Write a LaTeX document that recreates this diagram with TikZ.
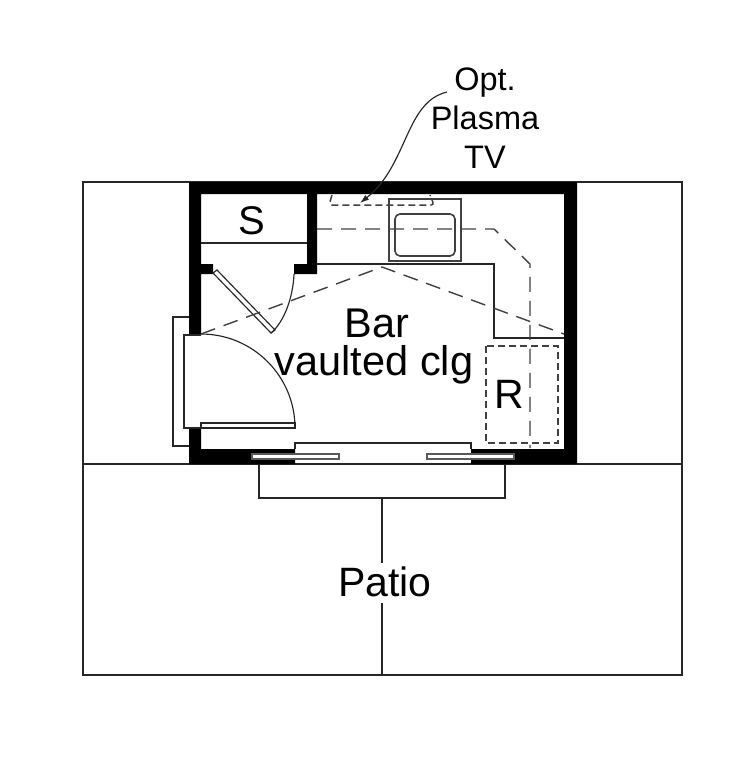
\documentclass[tikz,border=0pt]{standalone}
\usepackage{fontspec}
\setmainfont{Liberation Sans}
\usetikzlibrary{arrows.meta}
\tikzset{
  thinline/.style={draw=black!85, line width=1.15pt},
  sinkline/.style={draw=black!75, line width=1.6pt},
  dashline/.style={draw=black!75, line width=1.4pt, dash pattern=on 15pt off 9pt},
  shortdash/.style={draw=black!75, line width=1.5pt, dash pattern=on 7pt off 4pt},
  slider/.style={draw=black!65, fill=white, line width=1.5pt},
  label/.style={inner sep=0pt, anchor=base, text=black},
}
\begin{document}
\begin{tikzpicture}[x=1pt,y=-1pt]
\def\cWall{black}
\useasboundingbox (0,0) rectangle (750,780);
% plot lines
\draw[thinline] (83,182) rectangle (682,464);
\draw[thinline] (83,464) rectangle (682,675);
\draw[thinline] (382,499) -- (382,563);
\draw[thinline] (382,603) -- (382,675);
\draw[thinline] (259,464) -- (259,498) -- (505,498) -- (505,464);
% walls
\fill[\cWall] (189,182) -- (577,182) -- (577,464) -- (471,464) -- (471,449) -- (564,449) -- (564,194)
  -- (317,194) -- (317,274) -- (294,274) -- (294,264) -- (307,264) -- (307,194) -- (201,194)
  -- (201,264) -- (213,264) -- (213,274) -- (201,274) -- (201,334) -- (189,334) -- cycle;
\fill[\cWall] (189,428) -- (201,428) -- (201,449) -- (295,449) -- (295,464) -- (189,464) -- cycle;
% closet
\draw[thinline] (201,243) -- (307,243);
\draw[thinline] (213,273) -- (271,333) -- (275,330) -- (217,270) -- cycle;
\draw[thinline] (271,333) .. controls (284,322) and (293,298) .. (294,274);
% entry door
\draw[thinline] (189,317) -- (173,317) -- (173,446) -- (189,446);
\draw[thinline] (201,335) -- (184,335) -- (184,428) -- (201,428);
\draw[thinline] (201,334) arc[start angle=-90, end angle=0, radius=94];
\draw[thinline, fill=white] (201,423) rectangle (295,428);
% patio doors
\draw[thinline] (295,449) -- (295,443) -- (471,443) -- (471,449);
\draw[slider] (252,454) rectangle (339,459);
\draw[slider] (427,454) rectangle (514,459);
% counter and sink
\draw[thinline] (317,264) -- (494,264) -- (494,338) -- (564,338);
\draw[sinkline] (389,199) rectangle (461,261);
\draw[sinkline, rounded corners=5pt] (395,214) rectangle (455,256);
% overhead lines
\draw[dashline] (201,334) -- (382,267) -- (564,334);
\draw[dashline] (317,229) -- (494,229) -- (530,264) -- (530,448);
\draw[shortdash] (486,346) rectangle (558,443);
\draw[shortdash, rounded corners=3pt] (332,195) -- (329,205) -- (434,205) -- (430,195);
% labels
\node[label, font=\fontsize{40pt}{40pt}\selectfont] (closet) at (252,234) {S};
\node[label, font=\fontsize{41pt}{41pt}\selectfont] (fridge) at (509,408) {R};
\node[label, font=\fontsize{41.5pt}{41.5pt}\selectfont] (bar) at (377,337) {Bar};
\node[label, font=\fontsize{41.5pt}{41.5pt}\selectfont] (vault) at (374,375) {vaulted clg};
\node[label, font=\fontsize{41pt}{41pt}\selectfont] (patio) at (385,596) {Patio};
\node[label, font=\fontsize{32.5pt}{32.5pt}\selectfont] (opt) at (485,90) {Opt.};
\node[label, font=\fontsize{32.5pt}{32.5pt}\selectfont] (plasma) at (485,129) {Plasma};
\node[label, font=\fontsize{32.5pt}{32.5pt}\selectfont] (tv) at (485,168) {TV};
% leader
\coordinate (tvStart) at (447,92);
\coordinate (tvEnd) at (360,203);
\draw[thinline, -{Latex[length=9pt,width=6pt]}] (tvStart) .. controls (405,102) and (408,165) .. (tvEnd);
\end{tikzpicture}
\end{document}
